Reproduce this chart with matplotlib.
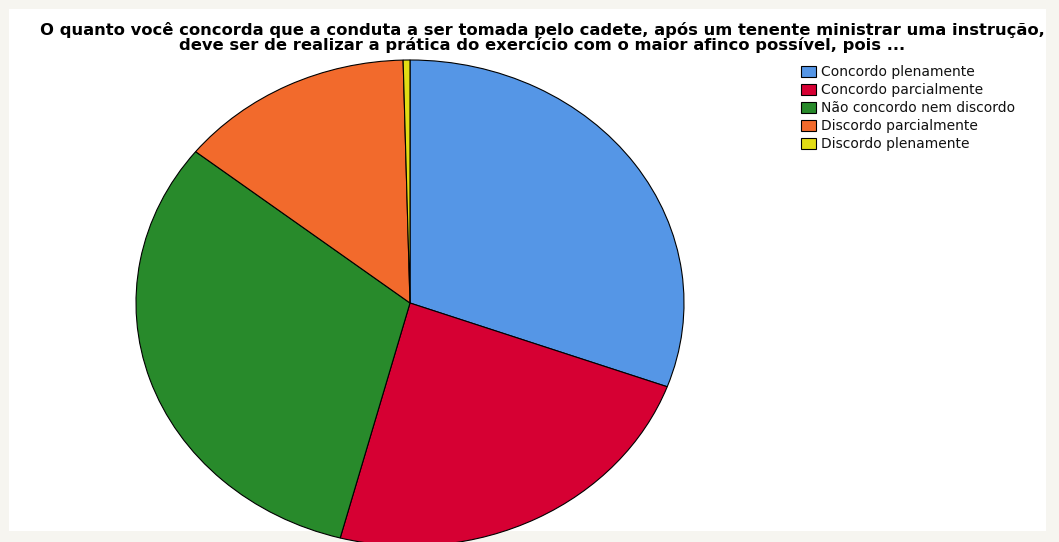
"""Pie chart of responses on cadet conduct after an instruction."""

import matplotlib

matplotlib.use("Agg")

import matplotlib.pyplot as plt
from matplotlib.patches import Rectangle

categories = [
    "Concordo plenamente",
    "Concordo parcialmente",
    "Não concordo nem discordo",
    "Discordo parcialmente",
    "Discordo plenamente",
]
shares = [30.6, 23.5, 31.6, 13.9, 0.4]

colors = ["#5596e6", "#d60033", "#288a2b", "#f26a2c", "#e2dc14"]
TITLE = (
    "O quanto você concorda que a conduta a ser tomada pelo cadete, após um tenente "
    "ministrar uma instrução,\ndeve ser de realizar a prática do exercício com o maior "
    "afinco possível, pois ..."
)

W, H = 1059, 542
plt.rcParams["font.family"] = ["DejaVu Sans"]

fig = plt.figure(figsize=(W / 100, H / 100), dpi=100, facecolor="#f6f5f0")

# white chart panel inside a faint frame
fig.patches.append(
    Rectangle((9 / W, 1 - 531 / H), 1037 / W, 522 / H, transform=fig.transFigure,
              facecolor="white", edgecolor="none", zorder=-1)
)

# axes box sized to the ellipse bounding box (pie is stretched, not circular)
cx, cy, rx, ry = 410, 303, 274, 243
ax = fig.add_axes([(cx - rx) / W, 1 - (cy + ry) / H, 2 * rx / W, 2 * ry / H])
ax.set_zorder(2)
wedges, _ = ax.pie(
    shares, colors=colors, startangle=90, counterclock=False, radius=1,
    wedgeprops=dict(edgecolor="black", linewidth=0.8),
)
ax.set_aspect("auto")
ax.set_xlim(-1, 1)
ax.set_ylim(-1, 1)
ax.axis("off")

fig.text(542 / W, 1 - 22 / H, TITLE, ha="center", va="top", fontsize=11.8,
         fontweight="bold", linespacing=0.9, color="black")

fig.legend(
    wedges, categories, loc="upper left", bbox_to_anchor=(801 / W, 1 - 65 / H),
    frameon=False, fontsize=10, handlelength=1.1, handleheight=0.85,
    handletextpad=0.35, labelspacing=0.29, borderpad=0, borderaxespad=0,
    labelcolor="#111111",
)

fig.savefig("out.png", dpi=100, facecolor=fig.get_facecolor())
